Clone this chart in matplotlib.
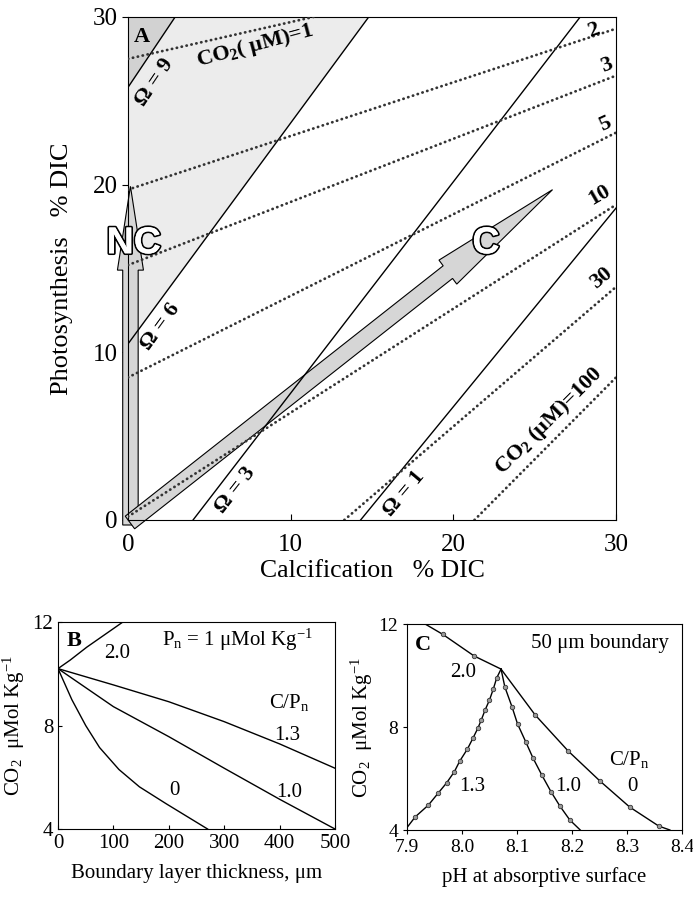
import numpy as np
import matplotlib.pyplot as plt
import matplotlib.patheffects as pe
from matplotlib.patches import FancyArrow

plt.rcParams['font.family'] = ['Liberation Serif', 'DejaVu Serif']
plt.rcParams['mathtext.default'] = 'regular'

# ---- panel A: saturation state (solid) and CO2 (dotted) isolines, % DIC
omega_labels = ['Ω = 9', 'Ω = 6', 'Ω = 3', 'Ω = 1']
omega_x = [[0, 2.9], [0, 14.8], [4.0, 27.8], [14.3, 30]]
omega_y = [[25.8, 30], [10.5, 30], [0, 30], [0, 18.6]]

co2_labels = ['CO$_2$( μM)=1', '2', '3', '5', '10', '30', 'CO$_2$ (μM)=100']
co2_x = [[0, 11.4], [0, 30], [0, 30], [0, 30], [0, 30], [13.3, 30], [21.3, 30]]
co2_y = [[27.5, 30], [19.7, 29.3], [15.2, 26.5], [8.5, 23.1], [0.2, 18.8], [0, 13.9], [0, 8.5]]

# arrows: start and tip (calcification, photosynthesis)
nc_arrow = [0.15, -0.3, 0.15, 19.9]
c_arrow = [0.12, -0.15, 26.1, 19.7]

# ---- panel B: CO2 vs boundary layer thickness for C/Pn ratios
b_x_20 = [0, 22, 52, 117]
b_y_20 = [10.2, 10.53, 11.03, 12.0]
b_x_13 = [0, 100, 200, 300, 400, 500]
b_y_13 = [10.2, 9.57, 8.92, 8.15, 7.29, 6.35]
b_x_10 = [0, 100, 200, 300, 400, 500]
b_y_10 = [10.2, 8.73, 7.57, 6.35, 5.15, 4.0]
b_x_0 = [0, 25, 50, 75, 110, 147, 195, 270]
b_y_0 = [10.2, 9.0, 8.0, 7.15, 6.3, 5.63, 4.98, 4.0]

# ---- panel C: CO2 vs pH at the surface, 50 um boundary
c_ph_20 = [7.933, 7.965, 8.022, 8.071]
c_co2_20 = [12.0, 11.6, 10.76, 10.25]
c_ph_0 = [8.071, 8.133, 8.193, 8.251, 8.305, 8.358, 8.378]
c_co2_0 = [10.25, 8.47, 7.07, 5.90, 4.89, 4.15, 4.0]
c_ph_10 = [8.071, 8.078, 8.091, 8.101, 8.116, 8.129, 8.145, 8.162, 8.178, 8.196, 8.215]
c_co2_10 = [10.25, 9.55, 8.78, 8.12, 7.42, 6.80, 6.14, 5.48, 4.93, 4.39, 4.0]
c_ph_13 = [8.071, 8.063, 8.057, 8.05, 8.042, 8.035, 8.029, 8.02, 8.01, 7.996,
           7.986, 7.972, 7.957, 7.939, 7.915, 7.898]
c_co2_13 = [10.25, 9.90, 9.48, 9.05, 8.66, 8.27, 7.96, 7.57, 7.15, 6.68,
            6.26, 5.83, 5.44, 4.97, 4.51, 4.04]

fig = plt.figure(figsize=(6.93, 9.01), dpi=100)
axA = fig.add_axes([0.1847, 0.4229, 0.7042, 0.5583])
axB = fig.add_axes([0.0837, 0.0799, 0.3997, 0.2297])
axC = fig.add_axes([0.5873, 0.0788, 0.3968, 0.2286])

# ---------------- A
axA.fill([0, omega_x[1][1], 0], [omega_y[1][0], 30, 30], color='#ececec', lw=0, zorder=0)
axA.fill([0, omega_x[0][1], 0], [omega_y[0][0], 30, 30], color='#d2d2d2', lw=0, zorder=0)

for xs, ys in zip(omega_x, omega_y):
    axA.plot(xs, ys, color='black', lw=1.0, zorder=3)
for xs, ys in zip(co2_x, co2_y):
    axA.plot(xs, ys, color='#333333', lw=2.0, linestyle=(0, (0.1, 1.7)),
             dash_capstyle='round', zorder=3)

for a, hl, hw in [(nc_arrow, 5.0, 1.6), (c_arrow, 8.1, 1.8)]:
    axA.add_patch(FancyArrow(a[0], a[1], a[2] - a[0], a[3] - a[1], width=0.95,
                             head_width=hw, head_length=hl, length_includes_head=True,
                             fc='#d6d6d6', ec='black', lw=0.8, clip_on=False, zorder=2))

outline = [pe.withStroke(linewidth=2.5, foreground='black'), pe.Normal()]
axA.text(0.35, 16.5, 'NC', family='Liberation Sans', fontsize=27, fontweight='bold',
         color='white', ha='center', va='center', path_effects=outline, zorder=5)
axA.text(22.0, 16.5, 'C', family='Liberation Sans', fontsize=27, fontweight='bold',
         color='white', ha='center', va='center', path_effects=outline, zorder=5)

omega_pos = [(1.66, 26.1, 56), (1.97, 11.5, 54), (6.6, 1.8, 52), (17.0, 1.6, 50)]
for lab, (x, y, r) in zip(omega_labels, omega_pos):
    axA.text(x, y, lab, fontsize=16, fontweight='bold', rotation=r,
             rotation_mode='anchor', ha='center', va='center', zorder=4)
co2_pos = [(7.8, 28.3, 15), (28.6, 29.2, 20), (29.4, 27.1, 20), (29.3, 23.6, 25),
           (29.0, 19.4, 30), (29.1, 14.4, 40), (25.9, 5.9, 45)]
for lab, (x, y, r) in zip(co2_labels, co2_pos):
    axA.text(x, y, lab, fontsize=16, fontweight='bold', rotation=r,
             rotation_mode='anchor', ha='center', va='center', zorder=4)
axA.text(0.35, 28.8, 'A', fontsize=16, fontweight='bold', ha='left', va='center')

axA.set_xlim(0, 30)
axA.set_ylim(0, 30)
axA.set_xticks([0, 10, 20, 30])
axA.set_yticks([0, 10, 20, 30])
axA.tick_params(axis='x', direction='in', length=4, labelsize=18, pad=10)
axA.tick_params(axis='y', direction='out', length=4, labelsize=18)
axA.set_xlabel('Calcification   % DIC', fontsize=18.5, labelpad=3)
axA.set_ylabel('Photosynthesis   % DIC', fontsize=19, labelpad=14)

# ---------------- B
for xs, ys in [(b_x_20, b_y_20), (b_x_13, b_y_13), (b_x_10, b_y_10), (b_x_0, b_y_0)]:
    axB.plot(xs, ys, color='black', lw=1.0)
axB.text(15, 11.25, 'B', fontsize=16, fontweight='bold', ha='left', va='center')
axB.text(106, 10.8, '2.0', fontsize=15, ha='center', va='center')
axB.text(324, 11.3, 'P$_n$ = 1 μMol Kg$^{-1}$', fontsize=15, ha='center', va='center')
axB.text(418, 8.9, 'C/P$_n$', fontsize=15, ha='center', va='center')
axB.text(414, 7.6, '1.3', fontsize=15, ha='center', va='center')
axB.text(417, 5.4, '1.0', fontsize=15, ha='center', va='center')
axB.text(210, 5.5, '0', fontsize=15, ha='center', va='center')
axB.set_xlim(0, 500)
axB.set_ylim(4, 12)
axB.set_xticks([0, 100, 200, 300, 400, 500])
axB.set_yticks([4, 8, 12])
axB.tick_params(direction='in', length=3, labelsize=15)
axB.set_xlabel('Boundary layer thickness, μm', fontsize=15, labelpad=8)
axB.set_ylabel('CO$_2$  μMol Kg$^{-1}$', fontsize=15, labelpad=4)

# ---------------- C
for xs, ys in [(c_ph_20, c_co2_20), (c_ph_0, c_co2_0), (c_ph_10, c_co2_10), (c_ph_13, c_co2_13)]:
    axC.plot(xs, ys, color='black', lw=1.0, marker='o', ms=3.2, mfc='#9a9a9a',
             mec='#333333', mew=0.6, markevery=slice(1, -1))
axC.text(7.915, 11.2, 'C', fontsize=16, fontweight='bold', ha='left', va='center')
axC.text(8.251, 11.26, '50 μm boundary', fontsize=15, ha='center', va='center')
axC.text(8.002, 10.1, '2.0', fontsize=15, ha='center', va='center')
axC.text(8.305, 6.75, 'C/P$_n$', fontsize=15, ha='center', va='center')
axC.text(8.018, 5.7, '1.3', fontsize=15, ha='center', va='center')
axC.text(8.193, 5.7, '1.0', fontsize=15, ha='center', va='center')
axC.text(8.31, 5.7, '0', fontsize=15, ha='center', va='center')
axC.set_xlim(7.9, 8.4)
axC.set_ylim(4, 12)
axC.set_xticks([7.9, 8.0, 8.1, 8.2, 8.3, 8.4])
axC.set_xticklabels(['7.9', '8.0', '8.1', '8.2', '8.3', '8.4'])
axC.set_yticks([4, 8, 12])
axC.tick_params(direction='out', length=3, labelsize=14)
axC.set_xlabel('pH at absorptive surface', fontsize=15, labelpad=8)
axC.set_ylabel('CO$_2$  μMol Kg$^{-1}$', fontsize=15, labelpad=2)

fig.savefig('out.png', dpi=100)
